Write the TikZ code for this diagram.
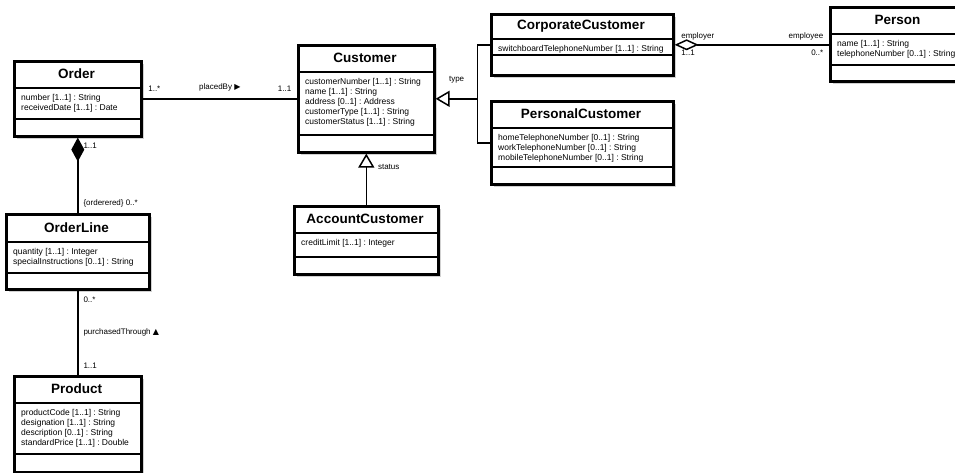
\documentclass[tikz,border=0pt]{standalone}
\usepackage{fontspec}
\setmainfont{Liberation Sans}
\newfontfamily\symbolfont{DejaVu Sans}
\usetikzlibrary{arrows.meta, positioning, calc}
\frenchspacing
\tikzset{
	umlbox/.style={draw, line width=2.6pt, fill=white, inner sep=0pt, anchor=north west},
	umlshadow/.style={fill=black!18},
	umldivider/.style={line width=2.6pt},
	umltitle/.style={font=\fontsize{13.5}{16}\selectfont\bfseries},
	umlattr/.style={font=\fontsize{8.5}{10}\selectfont, align=left, inner sep=0pt, anchor=north west},
	assoc/.style={line width=1.5pt},
	gen/.style={assoc, -{Triangle[open, fill=white, length=14pt, width=16pt]}},
	lbl/.style={font=\fontsize{8}{9.5}\selectfont, inner sep=1pt}
}
% name, left, top, right, title line, attribute line, bottom, title, attributes
\newcommand{\umlclass}[9]{%
	\fill[umlshadow] (#2+4,#3+4) rectangle (#4+4,#7+4);
	\node[umlbox, minimum width=#4-#2, minimum height=#7-#3] (#1) at (#2,#3) {};
	\draw[umldivider] (#2,#5) -- (#4,#5) (#2,#6) -- (#4,#6);
	\node[umltitle] (#1-title) at ({(#2+#4)/2},{(#3+#5)/2}) {#8};
	\node[umlattr] (#1-attr) at (#2+8,#5+6) {#9};
}

\begin{document}
\begin{tikzpicture}[x=1pt, y=-1pt]
	\clip (0,0) rectangle (955,473);
	\fill[white] (0,0) rectangle (955,473);

	\umlclass{order}{13}{60}{140}{88}{119}{135}{Order}
		{number [1..1] : String\\receivedDate [1..1] : Date}
	\umlclass{customer}{297}{44}{433}{72}{135}{151}{Customer}
		{customerNumber [1..1] : String\\name [1..1] : String\\address [0..1] : Address\\customerType [1..1] : String\\customerStatus [1..1] : String}
	\umlclass{corporate}{490}{13}{672}{39}{55}{74}{CorporateCustomer}
		{switchboardTelephoneNumber [1..1] : String}
	\umlclass{person}{829}{6}{966}{34}{65}{80}{Person}
		{name [1..1] : String\\telephoneNumber [0..1] : String}
	\umlclass{personal}{490}{100}{672}{128}{167}{183}{PersonalCustomer}
		{homeTelephoneNumber [0..1] : String\\workTelephoneNumber [0..1] : String\\mobileTelephoneNumber [0..1] : String}
	\umlclass{account}{293}{205}{437}{233}{257}{273}{AccountCustomer}
		{creditLimit [1..1] : Integer}
	\umlclass{orderline}{5}{213}{148}{242}{273}{288}{OrderLine}
		{quantity [1..1] : Integer\\specialInstructions [0..1] : String}
	\umlclass{product}{13}{375}{140}{403}{454}{471}{Product}
		{productCode [1..1] : String\\designation [1..1] : String\\description [0..1] : String\\standardPrice [1..1] : Double}

	\coordinate (typebus) at ($(customer.east)+(42,0)$);

%	associations
	\draw[assoc] (order.east) --
		node[lbl, at start, above right=6pt and 4pt] {1..*}
		node[lbl, midway, above=6pt] {placedBy {\symbolfont ▶}}
		node[lbl, at end, above left=6pt and 4pt] {1..1} (order.east -| customer.west);
	\draw[assoc] (orderline.south) --
		node[lbl, at start, below right=5pt and 4pt] {0..*}
		node[lbl, midway, right=4pt] {purchasedThrough {\symbolfont ▲}}
		node[lbl, at end, above right=5pt and 4pt] {1..1} (product.north);

%	whole and part
	\draw[assoc, {Diamond[length=24pt, width=13pt]}-] (order.south) --
		node[lbl, at start, below right=4pt and 4pt] {1..1}
		node[lbl, at end, above right=4pt and 4pt] {\{orderered\} 0..*} (orderline.north);
	\draw[assoc, {Diamond[open, fill=white, length=24pt, width=11pt]}-] (corporate.east) --
		node[lbl, at start, above right=3pt and 5pt] {employer}
		node[lbl, at start, below right=3pt and 5pt] {1..1}
		node[lbl, at end, above left=3pt and 4pt] {employee}
		node[lbl, at end, below left=3pt and 4pt] {0..*} (corporate.east -| person.west);

%	subtypes
	\draw[assoc] (corporate.west) -| (typebus) |- (personal.west);
	\draw[gen] (typebus) -- node[lbl, midway, above=14pt] {type} (customer.east);
	\draw[gen] (account.north) -- node[lbl, pos=0.74, right=10pt] {status} (account.north |- customer.south);
\end{tikzpicture}
\end{document}
